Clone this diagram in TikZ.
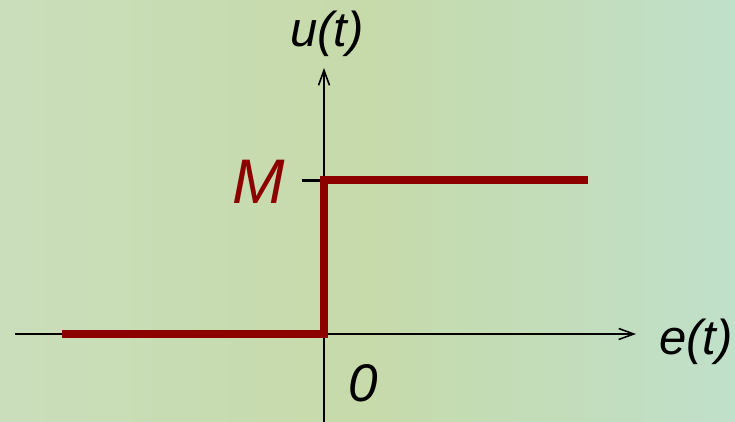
\documentclass[tikz,border=0pt]{standalone}
\usepackage{fontspec}
\setmainfont{Liberation Sans}
\usetikzlibrary{arrows.meta}
\definecolor{bgA}{RGB}{202,222,188}
\definecolor{bgB}{RGB}{192,224,202}
\definecolor{bgC}{RGB}{198,218,170}
\definecolor{stepred}{RGB}{140,0,0}
\tikzset{
  axis/.style={line width=2pt, black, -{Straight Barb[length=15pt,width=11pt,line width=1.6pt]}},
  stepline/.style={line width=8pt, stepred, line join=miter, line cap=rect},
  lbl/.style={inner sep=0pt, anchor=base, font=\itshape},
}
\begin{document}
\begin{tikzpicture}[x=1pt,y=-1pt]
\useasboundingbox (0,0) rectangle (735,422);
\shade[left color=bgA, right color=bgB, middle color=bgC, shading angle=90] (0,0) rectangle (735,422);
\coordinate (O) at (324,334);
\coordinate (xs) at (15,334);
\coordinate (xe) at (636,334);
\coordinate (ys) at (324,422);
\coordinate (ye) at (324,68);
\coordinate (L) at (62,334);
\coordinate (Mk) at (324,180);
\coordinate (R) at (588,180);
\coordinate (tk) at (302,180);
\draw[axis] (xs) -- (xe);
\draw[axis] (ys) -- (ye);
\draw[line width=3pt, black] (tk) -- (Mk);
\draw[stepline, line cap=butt] (L) -- (O) -- (Mk) -- (R);
\node[lbl, font=\itshape\fontsize{49}{49}\selectfont] (u) at (327,47) {u(t)};
\node[lbl, font=\itshape\fontsize{49}{49}\selectfont, anchor=base west] (e) at (659,354) {e(t)};
\node[lbl, font=\itshape\fontsize{53}{53}\selectfont, anchor=base west] (z) at (348,401) {0};
\node[lbl, font=\itshape\fontsize{63}{63}\selectfont, text=stepred, anchor=base west] (M) at (232,203) {M};
\end{tikzpicture}
\end{document}
